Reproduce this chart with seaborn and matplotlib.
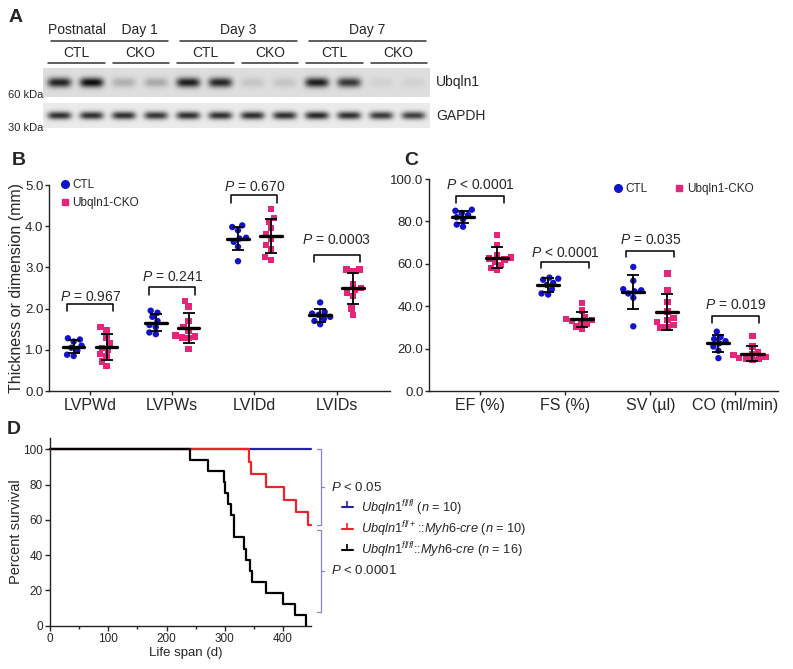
import numpy as np
import pandas as pd
import seaborn as sns
import matplotlib.pyplot as plt
from matplotlib.lines import Line2D

sns.set_style("ticks")
plt.rcParams["font.family"] = ["Liberation Sans", "DejaVu Sans"]
plt.rcParams.update({
    "mathtext.fontset": "custom",
    "mathtext.rm": "Liberation Sans",
    "mathtext.it": "Liberation Sans:italic",
    "mathtext.bf": "Liberation Sans:bold",
    "axes.linewidth": 1.0,
    "axes.edgecolor": "#222222",
})

W, H = 793, 669

# ---- panel A: western blot (band strength per lane, 0 = none, 1 = strongest)
time_points = ["Postnatal    Day 1", "Day 3", "Day 7"]
lane_groups = ["CTL", "CKO", "CTL", "CKO", "CTL", "CKO"]
ubqln1_band = [0.9, 1.0, 0.22, 0.25, 0.92, 0.88, 0.12, 0.12, 0.92, 0.8, 0.06, 0.06]
gapdh_band = [0.85, 0.85, 0.85, 0.82, 0.85, 0.85, 0.86, 0.85, 0.88, 0.85, 0.8, 0.78]

# ---- panel B: LV dimensions (mm)
b_measures = ["LVPWd", "LVPWs", "LVIDd", "LVIDs"]
b_ctl = [
    [1.28, 1.25, 1.2, 1.1, 0.98, 0.88, 0.85, 1.05],
    [1.95, 1.9, 1.8, 1.7, 1.6, 1.55, 1.42, 1.38],
    [4.02, 3.98, 3.9, 3.72, 3.7, 3.62, 3.5, 3.15],
    [2.15, 1.92, 1.88, 1.85, 1.8, 1.75, 1.7, 1.62],
]
b_cko = [
    [1.55, 1.48, 1.3, 1.15, 1.05, 1.0, 0.9, 0.85, 0.72, 0.6],
    [2.18, 2.05, 1.7, 1.55, 1.45, 1.35, 1.32, 1.3, 1.28, 1.02],
    [4.42, 4.2, 4.1, 3.95, 3.8, 3.7, 3.55, 3.45, 3.25, 3.18],
    [2.95, 2.95, 2.92, 2.6, 2.5, 2.45, 2.38, 2.3, 2.0, 1.85],
]
b_ptext = ["= 0.967", "= 0.241", "= 0.670", "= 0.0003"]
b_bracket_y = [2.12, 2.53, 4.76, 3.31]
b_text_y = [2.29, 2.77, 4.96, 3.66]

# ---- panel C: LV function
c_measures = ["EF (%)", "FS (%)", "SV (µl)", "CO (ml/min)"]
c_ctl = [
    [85.5, 85, 84, 83, 82, 81, 78.5, 77.5],
    [53.5, 53, 52.5, 51, 50, 48, 46, 45.5],
    [58.5, 52, 48, 47.5, 47, 46, 44, 30.5],
    [28, 25.5, 24.5, 23.5, 22.5, 21, 19, 15.5],
]
c_cko = [
    [73.5, 69, 64, 63, 62.5, 62, 61, 59.5, 58, 57],
    [41.5, 38, 35, 34, 33.5, 33, 32.5, 31.5, 30.5, 29.5],
    [55.5, 47.5, 42, 37.5, 34.5, 33.5, 32.5, 31, 30, 30],
    [26, 21, 18.5, 17.5, 17, 16, 15.5, 15, 15, 14.5],
]
c_ptext = ["< 0.0001", "< 0.0001", "= 0.035", "= 0.019"]
c_bracket_y = [91.8, 61.0, 66.2, 35.3]
c_text_y = [97.0, 65.0, 71.0, 40.5]

# ---- panel D: survival (days, percent)
blue_t = [0, 448]
blue_s = [100, 100]
red_t = [0, 341, 345, 370, 401, 422, 442, 448]
red_s = [100, 92.86, 85.71, 78.57, 71.43, 64.29, 57.14, 57.14]
black_t = [0, 240, 272, 298, 300, 305, 311, 315, 333, 337, 343, 347, 370, 400, 421, 439]
black_s = [100, 93.75, 87.5, 81.25, 75, 68.75, 62.5, 50, 43.75, 37.5, 31.25, 25, 18.75, 12.5, 6.25, 0]
d_labels = [
    r"$\it{Ubqln1}^{\it{fl/fl}}$ ($\it{n}$ = 10)",
    r"$\it{Ubqln1}^{\it{fl/+}}$::$\it{Myh6}$-$\it{cre}$ ($\it{n}$ = 10)",
    r"$\it{Ubqln1}^{\it{fl/fl}}$::$\it{Myh6}$-$\it{cre}$ ($\it{n}$ = 16)",
]

BLUE = "#1212cc"
PINK = "#e3267a"
groups = ["CTL", "Ubqln1-CKO"]


def fig_rect(x0, y0, x1, y1):
    return [x0 / W, 1 - y1 / H, (x1 - x0) / W, (y1 - y0) / H]


fig = plt.figure(figsize=(W / 100, H / 100), dpi=100)

# ================= A
ax_a = fig.add_axes([0, 1 - 140 / H, 1, 140 / H])
ax_a.set_xlim(0, W)
ax_a.set_ylim(140, 0)
ax_a.axis("off")


def blot_image(bands, rows, sigma, base):
    n = len(bands)
    x = np.linspace(-0.5, n - 0.5, n * 40)
    y = np.linspace(-1, 1, rows)
    img = np.full((rows, x.size), base)
    for i, v in enumerate(bands):
        px = np.exp(-((x - i) / 0.37) ** 4)
        py = np.exp(-(y / sigma) ** 2)
        img -= base * 0.95 * v * np.outer(py, px)
    return img


blot_x0, blot_x1 = 43, 430
ax_a.imshow(blot_image(ubqln1_band, 60, 0.34, 0.87), cmap="gray", vmin=0, vmax=1,
            extent=(blot_x0, blot_x1, 97, 68), aspect="auto", interpolation="bilinear")
ax_a.imshow(blot_image(gapdh_band, 50, 0.32, 0.92), cmap="gray", vmin=0, vmax=1,
            extent=(blot_x0, blot_x1, 128, 103), aspect="auto", interpolation="bilinear")

span_t = (blot_x1 - blot_x0) / len(time_points)
for k, lab in enumerate(time_points):
    xa = blot_x0 + k * span_t + 8
    xb = blot_x0 + (k + 1) * span_t - 4
    ax_a.plot([xa, xb], [41, 41], color="#333333", lw=1.1)
    shift = -7 if k == 0 else 0
    ax_a.text((xa + xb) / 2 + shift, 30, lab, ha="center", va="center", fontsize=10)
span_g = (blot_x1 - blot_x0) / len(lane_groups)
for k, lab in enumerate(lane_groups):
    xa = blot_x0 + k * span_g + 5
    xb = blot_x0 + (k + 1) * span_g - 3
    ax_a.plot([xa, xb], [63, 63], color="#333333", lw=1.1)
    ax_a.text((xa + xb) / 2, 53, lab, ha="center", va="center", fontsize=10)
ax_a.text(436, 82, "Ubqln1", ha="left", va="center", fontsize=10)
ax_a.text(436, 116, "GAPDH", ha="left", va="center", fontsize=10)
ax_a.text(43, 95, "60 kDa", ha="right", va="center", fontsize=8)
ax_a.text(43, 128, "30 kDa", ha="right", va="center", fontsize=8)


# ================= B and C
def dot_panel(ax, measures, ctl, cko, ptext, bracket_y, text_y, leg):
    rows = []
    for m, vals in zip(measures, ctl):
        rows += [(m, "CTL", v) for v in vals]
    for m, vals in zip(measures, cko):
        rows += [(m, "Ubqln1-CKO", v) for v in vals]
    df = pd.DataFrame(rows, columns=["measure", "group", "value"])
    for g, mk in zip(groups, ["o", "s"]):
        sns.swarmplot(data=df[df.group == g], x="measure", y="value", hue="group",
                      order=measures, hue_order=groups, dodge=True, marker=mk, size=4.6,
                      palette={"CTL": BLUE, "Ubqln1-CKO": PINK}, linewidth=0,
                      legend=False, ax=ax, zorder=2)
    for i in range(len(measures)):
        for vals, off in ((ctl[i], -0.2), (cko[i], 0.2)):
            mu, sd = np.mean(vals), np.std(vals, ddof=1)
            ax.errorbar(i + off, mu, yerr=sd, color="black", capsize=4, elinewidth=1.3,
                        capthick=1.3, zorder=5)
            ax.plot([i + off - 0.13, i + off + 0.13], [mu, mu], color="black", lw=2.4, zorder=6)
        ax.plot([i - 0.28, i - 0.28, i + 0.28, i + 0.28],
                [bracket_y[i] - leg, bracket_y[i], bracket_y[i], bracket_y[i] - leg],
                color="black", lw=1.1, clip_on=False)
        ax.text(i, text_y[i], r"$\it{P}$ " + ptext[i], ha="center", va="center", fontsize=10)
    ax.set_xlabel("")
    ax.set_ylabel("")
    ax.tick_params(axis="x", length=3, width=1, labelsize=11.5, pad=2)
    ax.tick_params(axis="y", length=3, width=1, labelsize=9.5, pad=1)
    sns.despine(ax=ax)


ax_b = fig.add_axes(fig_rect(49, 185, 390, 391))
dot_panel(ax_b, b_measures, b_ctl, b_cko, b_ptext, b_bracket_y, b_text_y, 0.19)
ax_b.set_ylim(0, 5)
ax_b.set_xlim(-0.5, 3.65)
ax_b.set_yticks(np.arange(0, 5.1, 1))
ax_b.set_yticklabels([f"{v:.1f}" for v in np.arange(0, 5.1, 1)])
ax_b.set_ylabel("Thickness or dimension (mm)", fontsize=11.5)
ax_b.yaxis.set_label_coords(-0.074, 0.5)

ax_c = fig.add_axes(fig_rect(429, 179, 778, 391))
dot_panel(ax_c, c_measures, c_ctl, c_cko, c_ptext, c_bracket_y, c_text_y, 3.2)
ax_c.set_ylim(0, 100)
ax_c.set_xlim(-0.6, 3.5)
ax_c.set_yticks(np.arange(0, 101, 20))
ax_c.set_yticklabels([f"{v:.1f}" for v in np.arange(0, 101, 20)])

leg_handles = [
    Line2D([], [], ls="none", marker="o", color=BLUE, markersize=5.5),
    Line2D([], [], ls="none", marker="s", color=PINK, markersize=5),
]
ax_b.legend(leg_handles, groups, loc="center left", bbox_to_anchor=(61 / W, 1 - 194 / H),
            bbox_transform=fig.transFigure, frameon=False, fontsize=8.5, borderpad=0,
            handlelength=0.6, handletextpad=0.35, labelspacing=0.45, borderaxespad=0)
ax_c.legend(leg_handles, groups, loc="center left", bbox_to_anchor=(614 / W, 1 - 189 / H),
            bbox_transform=fig.transFigure, frameon=False, fontsize=8.5, borderpad=0, ncol=2,
            handlelength=0.6, handletextpad=0.4, columnspacing=2.3, borderaxespad=0)

# ================= D
ax_d = fig.add_axes(fig_rect(50, 438, 311, 625.7))
curves = [(blue_t, blue_s, "#2222aa"), (red_t, red_s, "#e8262a"), (black_t, black_s, "black")]
for t, s, c in curves:
    sns.lineplot(x=t, y=s, drawstyle="steps-post", color=c, lw=1.6, estimator=None,
                 sort=False, ax=ax_d, clip_on=False)
ax_d.set_xlim(0, 448)
ax_d.set_ylim(0, 106.4)
ax_d.set_xticks([0, 100, 200, 300, 400])
ax_d.set_xticks([50, 150, 250, 350], minor=True)
ax_d.set_yticks(np.arange(0, 101, 20))
ax_d.tick_params(axis="both", which="major", length=3.5, width=1, labelsize=8.5, pad=1.5)
ax_d.tick_params(axis="x", which="minor", length=2, width=1)
ax_d.set_xlabel("Life span (d)", fontsize=9.5)
ax_d.set_ylabel("Percent survival", fontsize=10.5)
ax_d.yaxis.set_label_coords(-0.105, 0.5)
ax_d.xaxis.set_label_coords(0.52, -0.112)
sns.despine(ax=ax_d)

# log-rank brackets
br_col = "#8486c6"
d_brackets = [(100, 57.14, "< 0.05"), (54.2, 7.9, "< 0.0001")]
for top, bot, txt in d_brackets:
    mid = (top + bot) / 2
    ax_d.plot([459, 466, 466, 459], [top, top, bot, bot], color=br_col, lw=0.9, clip_on=False)
    ax_d.plot([466, 470], [mid, mid], color=br_col, lw=0.9, clip_on=False)
    ax_d.text(482, mid, r"$\it{P}$ " + txt, ha="left", va="center", fontsize=9.5)

d_handles = [Line2D([], [], color=c, lw=1.5, marker=2, markersize=4, markeredgewidth=1.2)
             for _, _, c in curves]
ax_d.legend(d_handles, d_labels, loc="center left", bbox_to_anchor=(342 / W, 1 - 529 / H),
            bbox_transform=fig.transFigure, frameon=False, fontsize=9.2, borderpad=0,
            handlelength=0.85, handletextpad=0.65, labelspacing=0.12, borderaxespad=0)

# panel letters
for lab, x, y in [("A", 9, 18), ("B", 12, 161), ("C", 404, 161), ("D", 7, 429)]:
    fig.text(x / W, 1 - y / H, lab, fontsize=14, fontweight="bold", ha="left", va="center")

fig.savefig("out.png", dpi=100)
